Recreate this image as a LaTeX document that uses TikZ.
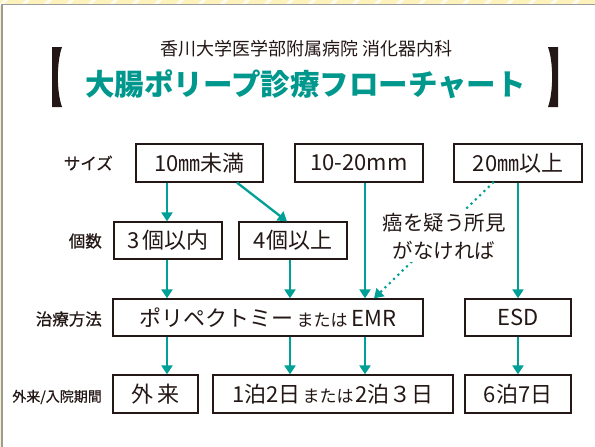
\documentclass[tikz,border=0pt]{standalone}
\usepackage{fontspec}
\setmainfont{Noto Sans CJK JP}
\newfontfamily\labfont{Noto Sans CJK JP}[FakeBold=0.6]
\usetikzlibrary{arrows.meta,calc}
\definecolor{teal1}{HTML}{00A096}
\definecolor{titleteal}{HTML}{00978D}
\definecolor{ink}{HTML}{231815}
\definecolor{cream}{HTML}{FDF1BC}
\definecolor{rim}{HTML}{9B9B9B}
\tikzset{
  box/.style={draw=ink, line width=1.3pt, inner sep=0pt, text=ink, font=\fontsize{22}{22}\selectfont},
  lab/.style={text=ink, anchor=east, inner sep=0pt, font=\labfont\fontsize{16.5}{16.5}\selectfont},
  arr/.style={draw=teal1, line width=2.3pt, -{Triangle[width=11pt,length=9pt]}},
  dotarr/.style={draw=teal1, line width=3pt, line cap=round, dash pattern=on 0pt off 6pt, -{Triangle[width=11pt,length=9pt]}},
  brk/.style={fill=ink, draw=none}
}
\newcommand{\sm}[1]{{\fontsize{17}{17}\selectfont #1}}
\begin{document}
\begin{tikzpicture}[x=1pt,y=-1pt]
\useasboundingbox (0,0) rectangle (595,447);
% background
\fill[cream] (0,0) rectangle (595,447);
\begin{scope}
\clip (0,0) rectangle (595,5);
\foreach \i in {0,22,...,620}{
  \draw[white, line width=3pt, opacity=0.8] (\i,6) -- (\i+7,-1);
}
\end{scope}
\fill[white] (1.5,4.5) rectangle (600,450);
\draw[rim, line width=1.4pt] (1.8,450) -- (1.8,4.6) -- (600,4.6);
% title
\node[text=ink, inner sep=0pt, font=\fontsize{18}{18}\selectfont] (sub) at (306.5,49) {香川大学医学部附属病院 消化器内科};
\node[text=titleteal, inner sep=0pt, font=\fontsize{29.5}{29.5}\selectfont\bfseries] (title) at (305.5,84) {大腸ポリープ診療フローチャート};
\fill[brk] (52,47) -- (62,47) .. controls (56.5,62) and (56.5,92) .. (62,107) -- (52,107) -- cycle;
\fill[brk] (558,47) -- (548,47) .. controls (553.5,62) and (553.5,92) .. (548,107) -- (558,107) -- cycle;
% row labels
\node[lab] (l1) at (113,163) {サイズ};
\node[lab] (l2) at (102,241) {個数};
\node[lab] (l3) at (102,319) {治療方法};
\node[lab, font=\labfont\fontsize{14}{14}\selectfont] (l4) at (102,397) {外来/入院期間};
% boxes
\node[box, minimum width=127pt, minimum height=38pt] (b1) at (199.5,163) {10㎜未満};
\node[box, minimum width=128pt, minimum height=38pt] (b2) at (359,163) {10-20mm};
\node[box, minimum width=128pt, minimum height=38pt] (b20) at (518,163) {20㎜以上};
\node[box, minimum width=108pt, minimum height=37pt] (b3) at (168,240.5) {3\hspace{2.5pt}個以内};
\node[box, minimum width=108pt, minimum height=37pt] (b4) at (293,240.5) {4個以上};
\node[box, minimum width=310pt, minimum height=37pt] (p) at (268,317.5) {ポリペクトミー\hspace{3pt}\sm{または}\hspace{4pt}EMR};
\node[box, minimum width=106pt, minimum height=37pt] (esd) at (518,317.5) {ESD};
\node[box, minimum width=85pt, minimum height=38pt] (g) at (155.5,394) {外\hspace{5pt}来};
\node[box, minimum width=240pt, minimum height=38pt] (h) at (333,394) {1泊2日\hspace{2pt}\sm{または}\hspace{2pt}2泊３日};
\node[box, minimum width=106pt, minimum height=38pt] (s) at (518,394) {6泊7日};
% columns
\coordinate (xa) at (167,0);
\coordinate (xb) at (290,0);
\coordinate (xc) at (365,0);
\coordinate (xd) at (518,0);
\coordinate (d1) at (493,0);
\coordinate (d2) at (374,0);
% arrows
\draw[arr] (b1.south -| xa) -- (b3.north -| xa);
\draw[arr] ($(b1.south)+(37.5,0)$) -- ($(b4.north)+(-6,0)$);
\draw[arr] (b3.south -| xa) -- (p.north -| xa);
\draw[arr] (b4.south -| xb) -- (p.north -| xb);
\draw[arr] (b2.south -| xc) -- (p.north -| xc);
\draw[dotarr] (b20.south -| d1) -- (p.north -| d2);
\draw[arr] (b20.south -| xd) -- (esd.north -| xd);
\draw[arr] (p.south -| xa) -- (g.north -| xa);
\draw[arr] (p.south -| xb) -- (h.north -| xb);
\draw[arr] (p.south -| xc) -- (h.north -| xc);
\draw[arr] (esd.south -| xd) -- (s.north -| xd);
% note (covers the dotted line)
\node[text=ink, fill=white, inner xsep=1pt, inner ysep=3pt, align=center, font=\fontsize{20.5}{28}\selectfont] (note) at (444,236) {癌を疑う所見\\がなければ};
\end{tikzpicture}
\end{document}
